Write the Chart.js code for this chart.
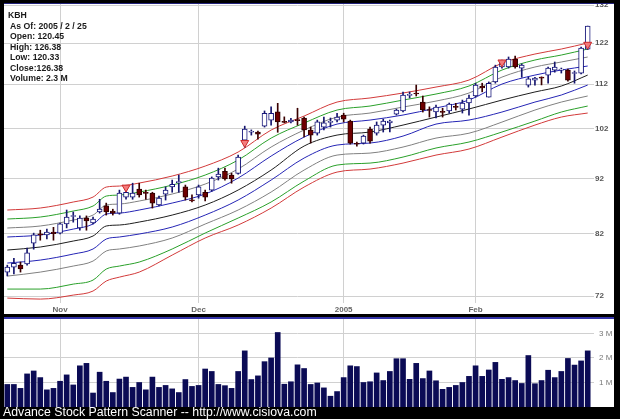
<!DOCTYPE html>
<html><head><meta charset="utf-8">
<script src="https://cdn.jsdelivr.net/npm/chart.js@4.4.1/dist/chart.umd.min.js"></script>
<style>
html,body{margin:0;padding:0;background:#000;}
body{width:620px;height:419px;position:relative;overflow:hidden;font-family:"Liberation Sans",Arial,sans-serif;}
#p1{position:absolute;left:4px;top:3px;width:610px;height:311px;background:#fff;border-top:1px solid #22227a;box-sizing:border-box;}
#p2{position:absolute;left:4px;top:317px;width:610px;height:90px;background:#fff;border-top:2px solid #3434a8;box-sizing:border-box;}
canvas{display:block;}
#info{position:absolute;left:8px;top:10px;font:bold 8.7px "Liberation Sans",Arial,sans-serif;line-height:10.5px;color:#1a1a1a;}
#info div.s{padding-left:2px;}
#foot{position:absolute;left:3px;top:405px;font:12.3px "Liberation Sans",Arial,sans-serif;line-height:14px;color:#fff;white-space:nowrap;}
</style></head>
<body>
<div id="p1"><canvas id="price" width="610" height="310"></canvas></div>
<div id="info"><div>KBH</div><div class="s">As Of: 2005 / 2 / 25</div><div class="s">Open: 120.45</div><div class="s">High: 126.38</div><div class="s">Low: 120.33</div><div class="s">Close:126.38</div><div class="s">Volume: 2.3 M</div></div>
<div id="p2"><canvas id="vol" width="610" height="88"></canvas></div>
<div id="foot">Advance Stock Pattern Scanner -- http://www.cisiova.com</div>
<script>
// ---- trading days ----
const octDays = [20,21,22,25,26,27,28,29];
const novDays = [1,2,3,4,5,8,9,10,11,12,15,16,17,18,19,22,23,24,26,29,30];
const decDays = [1,2,3,6,7,8,9,10,13,14,15,16,17,20,21,22,23,27,28,29,30,31];
const janDays = [3,4,5,6,7,10,11,12,13,14,18,19,20,21,24,25,26,27,28,31];
const febDays = [1,2,3,4,7,8,9,10,11,14,15,16,17,18,22,23,24,25];
const labels = [
  ...octDays.map(d => '2004-10-' + d),
  ...novDays.map(d => '2004-11-' + d),
  ...decDays.map(d => '2004-12-' + d),
  ...janDays.map(d => '2005-1-' + d),
  ...febDays.map(d => '2005-2-' + d)
];
const monthTickLabels = {'2004-11-1':'Nov','2004-12-1':'Dec','2005-1-3':'2005','2005-2-1':'Feb'};
const priceTicks = [72,82,92,102,112,122,132];
const volumeTicks = [1,2,3];

// ---- OHLC ----
const open = [75.7,76.5,76.8,77.0,80.4,81.95,81.8,82.3,82.1,83.7,85.0,83.0,84.7,83.85,85.8,86.9,85.97,85.6,88.5,88.5,90.0,89.3,89.25,87.05,89.06,90.4,91.2,90.4,87.96,88.9,89.4,89.8,92.3,93.4,92.66,93.0,99.67,101.3,101.35,102.6,103.9,105.7,103.6,103.5,104.0,104.35,101.77,101.1,102.4,103.4,103.9,105.0,103.7,98.95,99.05,101.98,101.1,102.83,103.3,105.2,105.9,109.4,109.9,107.88,106.2,105.66,105.8,105.88,106.9,106.3,107.66,109.25,111.5,109.0,112.5,116.05,116.05,117.99,115.8,111.77,112.94,113.5,114.1,115.3,115.3,115.32,114.5,114.6,120.45];
const high = [76.8,77.9,77.3,79.6,82.1,82.6,82.8,83.1,83.85,86.15,85.8,85.1,85.1,84.9,88.1,87.4,86.3,89.8,90.2,91.1,91.1,89.8,89.4,88.7,90.4,91.7,92.66,90.75,88.9,90.75,89.8,92.3,94.0,94.0,93.0,96.6,102.6,101.8,101.56,105.9,106.8,107.6,104.6,104.3,106.5,104.56,102.4,103.9,104.56,104.35,105.4,105.4,103.9,99.26,100.7,102.4,103.5,104.1,103.9,106.3,110.17,110.17,111.77,109.25,106.8,107.2,106.5,107.66,107.6,108.33,109.47,112.2,112.2,112.5,116.5,117.75,118.5,118.7,116.8,113.6,113.6,113.7,116.05,117.27,115.8,115.57,115.1,121.0,126.38];
const low = [75.1,75.4,75.7,76.8,79.4,80.9,81.1,80.9,81.95,83.0,84.0,82.6,82.6,83.7,85.6,85.25,85.25,85.4,88.1,88.1,88.5,88.1,86.5,86.9,87.96,89.4,89.4,87.96,87.6,88.3,87.8,89.6,91.7,91.7,91.1,92.85,98.2,100.7,99.87,102.4,102.8,101.3,103.3,103.3,102.8,100.3,99.05,100.7,101.77,102.4,103.5,103.5,98.84,98.43,98.84,99.05,100.7,101.35,101.35,105.0,105.66,108.8,109.25,105.66,104.56,104.35,104.56,105.4,106.1,105.44,105.0,109.0,110.2,109.0,112.2,115.8,115.8,115.8,113.6,111.3,111.77,111.8,112.2,114.8,114.6,112.7,112.2,114.4,120.33];
const close = [76.5,77.1,76.2,78.8,81.8,81.8,82.3,82.0,83.7,84.9,85.1,84.7,84.2,84.55,86.3,85.8,85.6,89.25,89.4,89.25,88.9,89.2,87.4,88.3,89.8,90.9,91.35,88.5,87.8,90.4,88.5,92.1,92.85,91.9,91.9,96.2,101.98,101.4,100.92,105.4,105.4,103.5,103.4,103.9,103.8,101.77,100.71,103.5,103.3,103.5,104.56,104.1,99.05,98.8,100.5,99.46,102.83,103.7,103.7,106.1,109.47,109.6,109.7,106.1,106.0,106.77,105.6,107.4,106.7,107.66,108.8,111.77,111.1,112.2,116.05,117.27,117.99,116.05,116.5,113.2,113.4,113.4,115.8,116.05,115.4,112.94,114.65,120.7,126.38];
// volume in millions
const volume = [0.92,0.92,0.76,1.35,1.47,1.2,0.7,0.76,1.05,1.31,0.9,1.68,1.78,0.57,1.42,1.05,0.59,1.14,1.22,0.8,1.0,0.7,1.22,0.8,0.88,0.74,0.59,1.12,0.84,0.88,1.55,1.45,0.92,0.87,0.76,1.45,2.29,1.12,1.27,1.85,2.0,3.04,0.93,1.03,1.72,1.57,0.92,0.98,0.78,0.44,0.63,1.2,1.68,1.65,1.0,1.03,1.39,1.08,1.45,1.97,1.97,1.13,1.78,1.16,1.47,1.07,0.72,0.8,0.88,1.0,1.25,1.68,1.25,1.51,1.82,1.13,1.2,1.08,0.96,2.1,0.95,1.08,1.5,1.2,1.45,1.98,1.71,1.88,2.29];

// ---- bands (read at sample days) ----
const bandDays = [0,5,10,13,15,17,20,25,30,35,40,45,50,55,60,65,70,75,80,84,88];
const redUpper   = [86.15,86.51,87.6,88.51,90.37,90.56,91.13,92.47,94.41,97.21,101.77,104.78,107.88,108.8,109.93,111.31,112.94,117.0,119.23,120.48,122.0];
const greenUpper = [84.55,84.9,85.97,86.87,88.69,88.88,89.44,90.75,92.66,95.6,100.08,103.26,106.1,106.99,108.33,109.7,111.54,115.32,117.75,118.98,120.48];
const grayUpper  = [82.98,83.33,84.37,85.25,87.05,87.23,87.78,89.07,90.94,93.83,98.23,101.77,104.56,105.44,106.77,108.1,109.93,113.64,116.05,117.27,118.49];
const blueUpper  = [81.44,81.78,82.8,83.67,85.43,85.6,86.15,87.41,89.07,92.08,96.4,100.29,103.04,103.91,105.0,106.55,108.33,112.0,114.12,115.32,116.29];
const middle     = [79.26,79.76,80.76,81.61,83.33,83.5,84.02,85.25,87.05,89.81,93.63,98.43,100.71,101.35,102.83,104.56,106.33,108.33,110.17,111.54,114.12];
const blueLower  = [77.14,77.62,78.6,79.43,81.1,81.44,81.95,83.15,85.25,87.96,91.7,96.0,98.64,99.05,100.5,103.04,103.91,105.66,107.88,109.47,111.77];
const grayLower  = [75.07,75.7,76.66,77.46,79.1,79.43,79.93,81.27,83.67,86.15,89.44,93.63,96.6,97.0,98.23,100.08,101.1,103.47,106.1,107.88,109.25];
const greenLower = [73.07,73.07,73.83,74.45,76.18,76.66,77.3,79.43,82.12,84.72,87.6,91.5,94.61,95.0,96.2,98.03,99.26,101.35,103.69,105.66,106.99];
const redLower   = [71.71,71.56,72.16,72.77,74.3,74.91,75.7,78.43,81.27,83.5,86.5,90.37,93.24,93.83,95.0,96.6,97.82,100.29,102.83,104.56,105.44];

// ---- signal markers (down triangles) ----
const signalDays = [18,36,75,88];
const signalValues = [90.3,99.1,117.2,121.6];

const N = labels.length;
function onDays(days, vals){ const a = new Array(N).fill(null); days.forEach((d,k)=>{ a[d] = vals[k]; }); return a; }
const isUp = open.map((o,i)=> close[i] >= o);
const FONT = 'Liberation Sans';

const bandSpec = [
  [redUpper,'#d23a3a'],[greenUpper,'#2aa02a'],[grayUpper,'#808080'],[blueUpper,'#2525b5'],
  [middle,'#1e1e1e'],
  [blueLower,'#2525b5'],[grayLower,'#808080'],[greenLower,'#2aa02a'],[redLower,'#d23a3a']
];
const bandDatasets = bandSpec.map(([vals,col]) => ({
  type:'line', data: onDays(bandDays, vals), borderColor: col, borderWidth: 1,
  pointRadius: 0, spanGaps: true, fill: false, cubicInterpolationMode: 'monotone', order: 10
}));

const gridCol = '#d0d0d0';
const monthGrid = c => (monthTickLabels[labels[c.index]] ? gridCol : 'rgba(0,0,0,0)');
const noPad = s => { s.paddingTop = 0; s.paddingBottom = 0; s.paddingLeft = 0; s.paddingRight = 0; };

new Chart(document.getElementById('price'), {
  type: 'bar',
  data: {
    labels,
    datasets: [
      ...bandDatasets,
      { type:'bar', data: low.map((l,i)=>[l, high[i]]), backgroundColor: isUp.map(u=> u ? '#16166e' : '#3a0000'),
        barThickness: 1, grouped: false, borderWidth: 0, order: 3 },
      { type:'bar', data: open.map((o,i)=>[o, close[i]]), backgroundColor: isUp.map(u=> u ? '#ffffff' : '#6e0000'),
        borderColor: isUp.map(u=> u ? '#16167a' : '#2e0000'), borderWidth: 1, borderSkipped: false,
        barThickness: 5, minBarLength: 1, grouped: false, order: 2 },
      { type:'line', data: onDays(signalDays, signalValues), showLine: false, pointStyle: 'triangle', pointRotation: 180,
        pointRadius: 4.6, pointBackgroundColor: '#f47c7c', pointBorderColor: '#cc2a2a', pointBorderWidth: 1, order: 0 }
    ]
  },
  options: {
    responsive: false, animation: false, devicePixelRatio: 1,
    layout: { padding: 0, autoPadding: false },
    plugins: { legend: { display: false }, tooltip: { enabled: false } },
    scales: {
      x: {
        offset: true,
        grid: { offset: false, color: monthGrid, drawTicks: false, lineWidth: 1 },
        border: { display: false },
        ticks: { autoSkip: false, maxRotation: 0, minRotation: 0, padding: 2,
          font: { size: 8, weight: 'bold', family: FONT }, color: '#666',
          callback: (v, i) => monthTickLabels[labels[i]] || '' },
        afterFit: s => { s.height = 11; noPad(s); }
      },
      y: {
        type: 'logarithmic', position: 'right', min: 70.98, max: 132.33,
        afterBuildTicks: s => { s.ticks = priceTicks.map(v => ({ value: v })); },
        grid: { color: gridCol, tickLength: 3 },
        border: { display: false },
        ticks: { padding: 1, font: { size: 8, weight: 'bold', family: FONT }, color: '#555', callback: v => String(v) },
        afterFit: s => { s.width = 23; noPad(s); }
      }
    }
  }
});

new Chart(document.getElementById('vol'), {
  type: 'bar',
  data: { labels, datasets: [{ data: volume, backgroundColor: '#0b0b55', barThickness: 5, borderWidth: 0 }] },
  options: {
    responsive: false, animation: false, devicePixelRatio: 1,
    layout: { padding: 0, autoPadding: false },
    plugins: { legend: { display: false }, tooltip: { enabled: false } },
    scales: {
      x: {
        offset: true,
        grid: { offset: false, color: monthGrid, drawTicks: false },
        border: { display: false },
        ticks: { display: false },
        afterFit: s => { s.height = 0; noPad(s); }
      },
      y: {
        position: 'right', min: 0, max: 3.59,
        afterBuildTicks: s => { s.ticks = volumeTicks.map(v => ({ value: v })); },
        grid: { color: gridCol, tickLength: 3 },
        border: { display: false },
        ticks: { padding: 5, font: { size: 8, family: FONT }, color: '#777', callback: v => v + ' M' },
        afterFit: s => { s.width = 23; noPad(s); }
      }
    }
  }
});
</script>
</body></html>
